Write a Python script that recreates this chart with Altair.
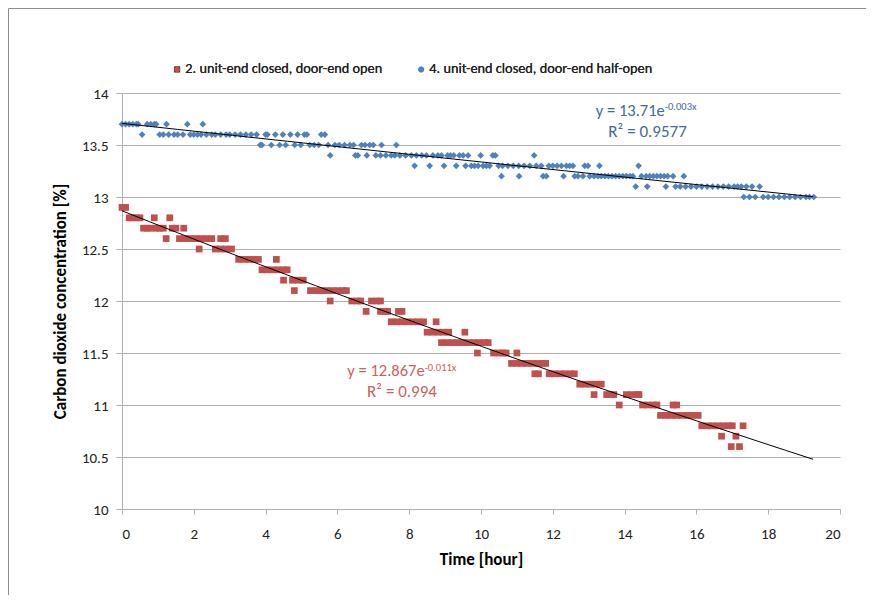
import altair as alt
import pandas as pd

S_RED = "2. unit-end closed, door-end open"
S_BLUE = "4. unit-end closed, door-end half-open"

red_levels = {
    12.9: [0.0, 0.1],
    12.8: [0.2, 0.3, 0.4, 0.5, 0.9, 1.33],
    12.7: [0.6, 0.7, 0.8, 0.95, 1.05, 1.15, 1.4, 1.5, 1.72],
    12.6: [1.23, 1.6, 1.75, 1.9, 2.05, 2.2, 2.35, 2.5, 2.75, 2.88],
    12.5: [2.15, 2.6, 2.75, 2.9, 3.05],
    12.4: [3.25, 3.4, 3.55, 3.7, 3.8, 4.3],
    12.3: [3.9, 4.05, 4.2, 4.35, 4.5, 4.6],
    12.2: [4.5, 4.75, 4.9, 5.05],
    12.1: [4.8, 5.25, 5.4, 5.55, 5.7, 5.85, 6.0, 6.15, 6.25],
    12.0: [5.8, 6.4, 6.55, 6.65, 6.95, 7.1, 7.2],
    11.9: [6.8, 7.2, 7.3, 7.4, 7.7, 7.8],
    11.8: [7.5, 7.65, 7.8, 7.95, 8.1, 8.25, 8.4, 8.75],
    11.7: [8.5, 8.65, 8.8, 8.95, 9.1, 9.55],
    11.6: [8.9, 9.05, 9.2, 9.35, 9.5, 9.65, 9.8, 9.95, 10.1, 10.2],
    11.5: [9.9, 10.35, 10.5, 10.6, 10.7, 11.0],
    11.4: [10.85, 11.0, 11.15, 11.3, 11.45, 11.6, 11.7, 11.8],
    11.3: [11.5, 11.6, 11.9, 12.05, 12.2, 12.35, 12.5, 12.6],
    11.2: [12.75, 12.9, 13.05, 13.2, 13.35],
    11.1: [13.15, 13.5, 13.6, 13.7, 14.05, 14.2, 14.35, 14.4],
    11.0: [13.85, 14.5, 14.65, 14.8, 14.9, 15.35, 15.45],
    10.9: [15.0, 15.15, 15.3, 15.45, 15.6, 15.75, 15.9, 16.05],
    10.8: [16.15, 16.3, 16.45, 16.6, 16.75, 16.9, 17.0, 17.3],
    10.7: [16.7, 17.1],
    10.6: [16.97, 17.2],
}

blue_levels = {
    13.7: [0.0, 0.1, 0.2, 0.3, 0.4, 0.45, 0.7, 0.8, 0.9, 0.95, 1.24, 1.82, 2.25],
    13.6: [0.56, 1.05, 1.15, 1.3, 1.45, 1.55, 1.7, 1.9, 2.0, 2.1, 2.2, 2.35,
           2.5, 2.6, 2.75, 2.9, 3.0, 3.15, 3.3, 3.45, 3.6, 3.75, 4.0, 4.05,
           4.27, 4.48, 4.69, 4.89, 5.08, 5.15, 5.55, 5.65],
    13.5: [3.85, 3.9, 4.16, 4.39, 4.56, 4.81, 4.98, 5.23, 5.35, 5.48, 5.74,
           5.93, 6.05, 6.2, 6.35, 6.45, 6.67, 6.77, 6.9, 7.0, 7.23, 7.64],
    13.4: [5.8, 6.5, 6.57, 6.82, 7.07, 7.2, 7.35, 7.5, 7.6, 7.74, 7.9, 8.06,
           8.2, 8.35, 8.48, 8.66, 8.8, 8.9, 9.07, 9.15, 9.24, 9.4, 9.5, 9.64,
           9.99, 10.33, 10.4, 11.48],
    13.3: [8.15, 8.57, 8.97, 9.31, 9.57, 9.73, 9.82, 9.92, 10.06, 10.15,
           10.24, 10.49, 10.6, 10.75, 10.9, 11.05, 11.2, 11.36, 11.54, 11.68,
           11.89, 12.0, 12.12, 12.24, 12.38, 12.47, 12.56, 12.89, 12.98,
           13.3, 14.39],
    13.2: [10.57, 11.06, 11.73, 11.82, 12.3, 12.61, 12.7, 12.84, 13.03,
           13.15, 13.26, 13.35, 13.45, 13.55, 13.65, 13.75, 13.85, 13.95,
           14.05, 14.15, 14.23, 14.47, 14.6, 14.7, 14.8, 14.9, 15.0, 15.1,
           15.2, 15.35, 15.65],
    13.1: [14.31, 14.63, 15.15, 15.42, 15.55, 15.7, 15.85, 16.0, 16.15,
           16.3, 16.45, 16.6, 16.75, 16.9, 17.05, 17.15, 17.25, 17.39,
           17.55, 17.76],
    13.0: [17.32, 17.48, 17.64, 17.86, 18.0, 18.15, 18.3, 18.45, 18.6,
           18.75, 18.9, 19.05, 19.15, 19.27],
}

x_ticks = [0, 2, 4, 6, 8, 10, 12, 14, 16, 18, 20]
y_ticks = [10, 10.5, 11, 11.5, 12, 12.5, 13, 13.5, 14]

# trendline annotations (position in data units)
ann_main_t = [15.12, 8.43]
ann_main_v = [13.823, 11.323]
ann_main_txt = ["y = 13.71e", "y = 12.867e"]
ann_sup_v = [13.862, 11.356]
ann_sup_txt = ["-0.003x", "-0.011x"]
ann_r2_t = [14.64, 7.80]
ann_r2_v = [13.625, 11.125]
ann_r2_txt = ["R\u00b2 = 0.9577", "R\u00b2 = 0.994"]
ann_colors = ["#44699a", "#cc5f5b"]

rows = []
for v, ts in red_levels.items():
    for t in ts:
        rows.append({"time": t, "co2": v, "series": S_RED})
for v, ts in blue_levels.items():
    for t in ts:
        rows.append({"time": t, "co2": v, "series": S_BLUE})
df = pd.DataFrame(rows)

FONT = "Carlito, Lato"
W, H = 718, 416

x_scale = alt.Scale(domain=[0, 20], nice=False, zero=False)
y_scale = alt.Scale(domain=[10, 14], nice=False, zero=False)
color_scale = alt.Scale(domain=[S_RED, S_BLUE], range=["#C0504D", "#4F81BD"])
shape_scale = alt.Scale(domain=[S_RED, S_BLUE], range=["square", "diamond"])

legend = alt.Legend(
    title=None, orient="none", legendX=48, legendY=-31, direction="horizontal",
    labelFont=FONT, labelFontSize=14.3, labelColor="#222222", symbolSize=36,
    symbolStrokeWidth=0, columnPadding=31, labelOffset=1, padding=0,
    labelLimit=500,
)

x_enc = alt.X("time:Q", scale=x_scale, axis=alt.Axis(
    title="Time [hour]", values=x_ticks, grid=False, tickSize=5, labelPadding=12,
    titleY=50, titleBaseline="middle"))
y_enc = alt.Y("co2:Q", scale=y_scale, axis=alt.Axis(
    title="Carbon dioxide concentration [%]", values=y_ticks, format=".1~f",
    grid=True, tickSize=6, labelPadding=8, titleX=-62, titleY=H / 2,
    titleBaseline="middle", titleAlign="center"))

points = alt.Chart(df).mark_point(filled=True, size=45, opacity=1, strokeWidth=0).encode(
    x=x_enc,
    y=y_enc,
    color=alt.Color("series:N", scale=color_scale, legend=legend),
    shape=alt.Shape("series:N", scale=shape_scale, legend=legend),
)

trend = alt.Chart(df).transform_regression(
    "time", "co2", groupby=["series"], method="exp", extent=[0, 19.25]
).mark_line(color="#000000", strokeWidth=1).encode(
    x="time:Q", y="co2:Q", detail="series:N"
)

ann_main = alt.Chart(pd.DataFrame({
    "time": ann_main_t, "co2": ann_main_v, "label": ann_main_txt, "col": ann_colors
})).mark_text(align="right", baseline="middle", font=FONT, fontSize=16.5).encode(
    x="time:Q", y="co2:Q", text="label:N", color=alt.Color("col:N", scale=None))

ann_sup = alt.Chart(pd.DataFrame({
    "time": ann_main_t, "co2": ann_sup_v, "label": ann_sup_txt, "col": ann_colors
})).mark_text(align="left", baseline="middle", font=FONT, fontSize=10.5).encode(
    x="time:Q", y="co2:Q", text="label:N", color=alt.Color("col:N", scale=None))

ann_r2 = alt.Chart(pd.DataFrame({
    "time": ann_r2_t, "co2": ann_r2_v, "label": ann_r2_txt, "col": ann_colors
})).mark_text(align="center", baseline="middle", font=FONT, fontSize=17).encode(
    x="time:Q", y="co2:Q", text="label:N", color=alt.Color("col:N", scale=None))

frame_df = pd.DataFrame({"a": [0]})
frame_top = alt.Chart(frame_df).mark_rule(color="#8c8c8c", strokeWidth=1).encode(
    x=alt.value(-113.5), x2=alt.value(W + 100), y=alt.value(-84.5))
frame_left = alt.Chart(frame_df).mark_rule(color="#8c8c8c", strokeWidth=1).encode(
    x=alt.value(-113.5), y=alt.value(-84.5), y2=alt.value(H + 200))

chart = alt.layer(frame_top, frame_left, points, trend, ann_main, ann_sup, ann_r2).resolve_scale(
    color="independent"
).properties(
    width=W, height=H,
    autosize=alt.AutoSizeParams(type="none"),
    padding={"left": 114, "top": 85, "right": 26, "bottom": 86},
).configure_axis(
    labelFont=FONT, labelFontSize=15, labelColor="#222222",
    titleFont=FONT, titleFontSize=17, titleFontWeight="bold", titleColor="#000000",
    domainColor="#b0b0b0", tickColor="#b0b0b0", gridColor="#b0b0b0",
).configure_view(stroke=None)

chart.save("out.html", embed_options={"renderer": "svg", "actions": False})
